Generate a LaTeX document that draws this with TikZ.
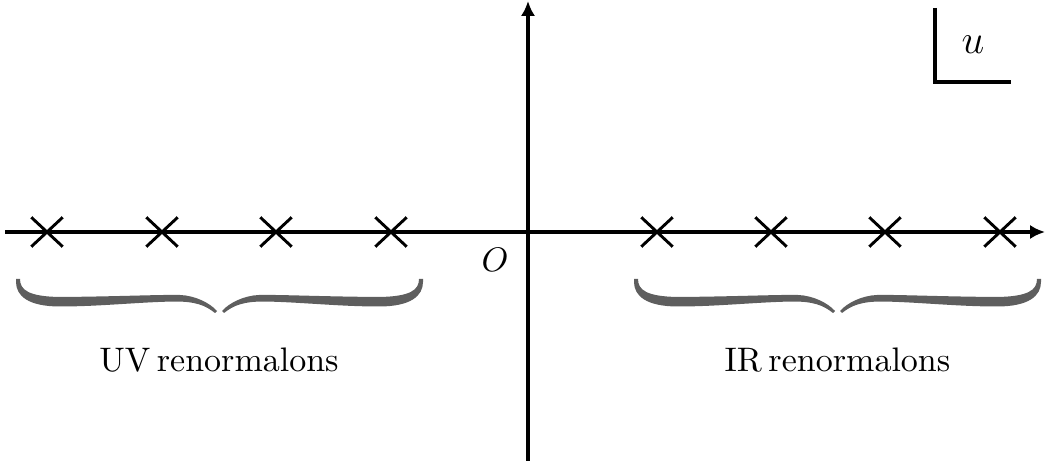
\documentclass[tikz,border=0pt]{standalone}
\usetikzlibrary{arrows.meta,shapes.misc}
\begin{document}
\begin{tikzpicture}[x=0.294pt,y=-0.294pt,
  axis/.style={line width=0.9pt,-{Latex[length=4.4pt,width=4.2pt]}},
  pole/.style={draw,cross out,line width=0.85pt,minimum width=8.4pt,minimum height=7.8pt,inner sep=0pt},
  bracefill/.style={fill=black!63,draw=none},
  lbl/.style={font=\normalsize}]
\path[use as bounding box] (0,0) rectangle (1045,461);
% axes
\coordinate (xl) at (5,232);
\coordinate (xr) at (1045,232);
\coordinate (yb) at (528,461);
\coordinate (yt) at (528,1);
\draw[axis] (xl) -- (xr);
\draw[axis] (yb) -- (yt);
\node[font=\normalsize] (O) at (495,260) {$O$};
% poles
\foreach \i/\x in {1/47,2/162,3/276,4/391,5/657,6/771,7/885,8/1000}
  \node[pole] (p\i) at (\x,232) {};
% u label
\coordinate (uc) at (935,82);
\coordinate (ut) at (935,8);
\coordinate (ur) at (1011,82);
\draw[line width=0.9pt] (ut) -- (uc) -- (ur);
\node[font=\large] (u) at (973,45) {$u$};
% braces
\foreach \tx in {219.5,837.5}{
  \foreach \s in {1,-1}{
    \begin{scope}[shift={(\tx,312)},xscale=\s]
      \path[bracefill] (-203.5,-33) -- (-199.5,-33)
        .. controls (-199.5,-22) and (-191,-15.5) .. (-159.5,-15)
        .. controls (-99.5,-15.5) and (-59.5,-17.5) .. (-39.5,-17)
        .. controls (-24.5,-16.5) and (-9.5,-9) .. (-2.5,-1)
        -- (-4.5,1)
        .. controls (-14.5,-7) and (-24.5,-10.5) .. (-44.5,-10.5)
        .. controls (-79.5,-10) and (-119.5,-5.5) .. (-159.5,-5.5)
        .. controls (-191,-5.5) and (-203.5,-16) .. (-203.5,-30)
        -- cycle;
    \end{scope}
  }
}
% labels
\node[lbl] (uv) at (219,360) {UV\hspace{1.9pt}renormalons};
\node[lbl] (ir) at (837.5,360) {IR\hspace{1.9pt}renormalons};
\end{tikzpicture}
\end{document}
